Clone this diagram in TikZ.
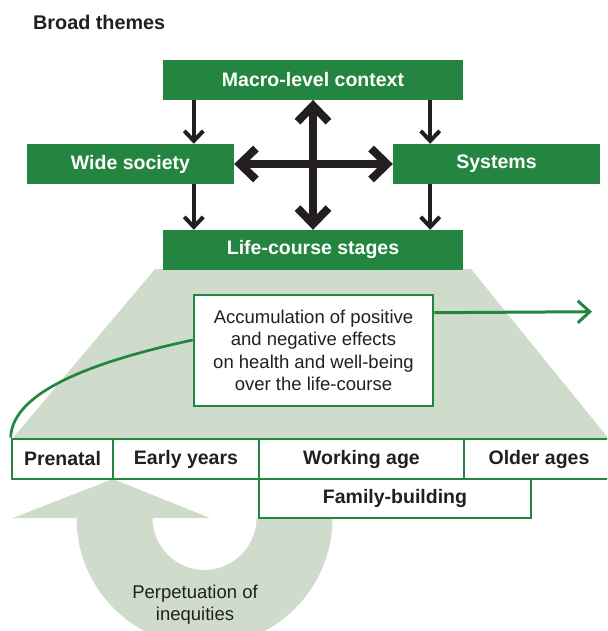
\documentclass[tikz,border=0pt]{standalone}
\usepackage{fontspec}
\setmainfont{Liberation Sans}
\usetikzlibrary{arrows.meta,calc}
\definecolor{dkgreen}{HTML}{23853F}
\definecolor{ltgreen}{HTML}{CFDCCB}
\definecolor{txt}{HTML}{231F20}
\begin{document}
\begin{tikzpicture}[x=1pt,y=-1pt,
  gbox/.style={fill=dkgreen,text=white,font=\bfseries\fontsize{19.5}{23}\selectfont,inner sep=0pt,minimum height=40pt},
  wbox/.style={draw=dkgreen,line width=2.7pt,fill=white,text=txt,font=\bfseries\fontsize{19.5}{23}\selectfont,inner sep=0pt,minimum height=40pt},
  regtext/.style={text=txt,font=\fontsize{18.5}{22.5}\selectfont,align=center,inner sep=0pt},
  smallarr/.style={draw=txt,line width=4pt,-{Straight Barb[length=10pt,width=19pt]}},
  bigarr/.style={draw=txt,line width=8pt,{Straight Barb[length=16pt,width=31pt]}-{Straight Barb[length=16pt,width=31pt]}},
  grnline/.style={draw=dkgreen,line width=2.7pt}
]
\useasboundingbox (0,0) rectangle (607,631);
\clip (0,0) rectangle (607,631);

% title
\node[anchor=west,inner sep=0pt,text=txt,font=\bfseries\fontsize{19.8}{23}\selectfont] (title) at (33,22.5) {Broad themes};

% light green trapezoid
\fill[ltgreen] (155,269) -- (471,269) -- (609,439) -- (12,439) -- cycle;

% U-shaped return arrow
\fill[ltgreen] (113,479) -- (210,518) -- (152.5,518)
  arc[start angle=180,end angle=0,radius=52] -- (332.5,518)
  arc[start angle=0,end angle=180,radius=128] -- (12.7,518) -- cycle;

% top boxes
\node[gbox,minimum width=300pt] (macro) at (313,79.75) {Macro-level context};
\node[gbox,minimum width=207pt] (wide) at (130.5,164) {Wide society};
\node[gbox,minimum width=207pt] (sys) at (496.5,164) {Systems};
\node[gbox,minimum width=300pt] (life) at (313,250) {Life-course stages};

\coordinate (ml) at ([xshift=31pt]macro.south west);
\coordinate (mr) at ([xshift=-33pt]macro.south east);
\coordinate (ll) at ([xshift=31pt]life.north west);
\coordinate (lr) at ([xshift=-33pt]life.north east);
\draw[smallarr] (ml) -- (ml |- wide.north);
\draw[smallarr] (ll |- wide.south) -- (ll);
\draw[smallarr] (mr) -- (mr |- sys.north);
\draw[smallarr] (lr |- sys.south) -- (lr);
\draw[bigarr] (macro.south) -- (life.north);
\draw[bigarr] (wide.east) -- (sys.west);

% accumulation box
\node[regtext,draw=dkgreen,line width=2.7pt,fill=white,minimum width=239pt,minimum height=111pt] (acc) at (313.5,350.5)
  {Accumulation of positive\\and negative effects\\on health and well-being\\over the life-course};

% stages
\node[wbox,minimum width=101pt] (pre) at (62.5,459) {Prenatal};
\node[wbox,minimum width=146pt] (early) at (186,459) {Early years};
\node[wbox,minimum width=205pt] (work) at (361.5,459) {Working age};
\node[wbox,minimum width=150pt] (old) at (539,459) {Older ages};
\node[wbox,minimum width=272pt,minimum height=39pt] (fam) at (395,498.5) {Family-building};

% green connectors
\draw[grnline] ([yshift=10.5pt]acc.west) .. controls (100,360) and (12,390) .. (pre.north west);
\coordinate (aend) at (592,311.7);
\draw[draw=dkgreen,line width=3pt,-{Straight Barb[length=12pt,width=22pt]}] ([yshift=37.8pt]acc.east) -- (aend);

% perpetuation
\node[regtext,font=\fontsize{18.5}{22}\selectfont] (perp) at (195,605) {Perpetuation of\\inequities};
\end{tikzpicture}
\end{document}
